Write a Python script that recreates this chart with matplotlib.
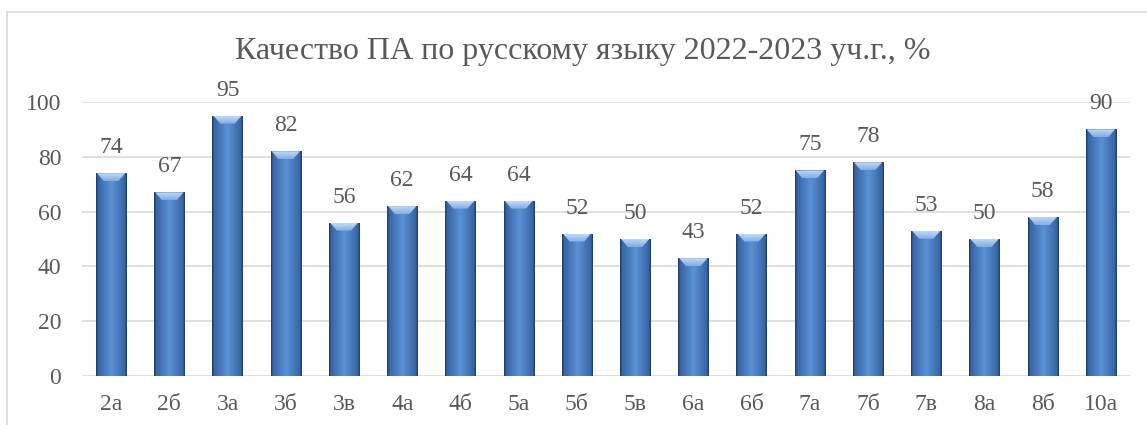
import numpy as np
import matplotlib
matplotlib.use("Agg")
import matplotlib.pyplot as plt
from matplotlib.colors import LinearSegmentedColormap
from matplotlib.patches import Polygon
from matplotlib.lines import Line2D

categories = ["2а", "2б", "3а", "3б", "3в", "4а", "4б", "5а", "5б", "5в",
              "6а", "6б", "7а", "7б", "7в", "8а", "8б", "10а"]
values = [74, 67, 95, 82, 56, 62, 64, 64, 52, 50, 43, 52, 75, 78, 53, 50, 58, 90]
title = "Качество ПА по русскому языку 2022-2023 уч.г., %"
yticks = [0, 20, 40, 60, 80, 100]

plt.rcParams['font.family'] = ['Liberation Serif', 'DejaVu Serif']
txt = "#595959"

W, H = 1147, 425
fig = plt.figure(figsize=(W / 100, H / 100), dpi=100)
ax = fig.add_axes([82 / W, 49 / H, (1130 - 82) / W, (376 - 102) / H])

x = np.arange(len(categories))
bars = ax.bar(x, values, width=0.52, color="#4f81bd", zorder=2)
ax.set_xlim(-0.5, len(categories) - 0.5)
ax.set_ylim(0, 100)
ax.set_yticks(yticks)
ax.set_xticks(x)
ax.set_xticklabels(categories)
ax.tick_params(axis='both', length=0, labelsize=17, colors=txt)
ax.tick_params(axis='x', pad=13)
ax.tick_params(axis='y', pad=15)
for s in ax.spines.values():
    s.set_visible(False)
ax.grid(axis='y', color="#d9d9d9", linewidth=1.2, zorder=0)
ax.set_axisbelow(True)

cmap = LinearSegmentedColormap.from_list(
    "bar", [(0, "#1a3461"), (0.06, "#3764a3"), (0.5, "#5b92d6"),
            (0.94, "#3764a3"), (1, "#1a3461")])
grad = np.linspace(0, 1, 200).reshape(1, -1)
bev_cmap = LinearSegmentedColormap.from_list(
    "bev", [(0, "#82ace4"), (1, "#c2daf6")])
vgrad = np.linspace(0, 1, 50).reshape(-1, 1)

fig.canvas.draw()
inv = ax.transData.inverted()
for b, v in zip(bars, values):
    x0, y0 = b.get_x(), b.get_y()
    w, h = b.get_width(), b.get_height()
    im = ax.imshow(grad, extent=[x0, x0 + w, y0, y0 + h], aspect='auto',
                   cmap=cmap, zorder=3, interpolation='bicubic')
    im.set_clip_path(b)
    b.set_facecolor("none")
    # top bevel (trapezoid)
    pL = ax.transData.transform((x0, y0 + h))
    pR = ax.transData.transform((x0 + w, y0 + h))
    d = 8
    verts = inv.transform([(pL[0] + 1, pL[1]), (pR[0] - 1, pR[1]),
                           (pR[0] - d, pR[1] - d), (pL[0] + d, pL[1] - d)])
    poly = Polygon(verts, closed=True, facecolor="none", edgecolor="none", zorder=4)
    ax.add_patch(poly)
    ybot = inv.transform((0, pL[1] - d))[1]
    bim = ax.imshow(vgrad, extent=[x0, x0 + w, ybot, y0 + h], aspect='auto',
                    cmap=bev_cmap, origin='lower', zorder=4, interpolation='bicubic')
    bim.set_clip_path(poly)
    ax.annotate(str(v), (x0 + w / 2, y0 + h), xytext=(0, 15),
                textcoords='offset pixels', ha='center', va='bottom',
                fontsize=17, color=txt, clip_on=False, zorder=5)

fig.text(583 / W, 1 - 52 / H, title, ha='center', va='center',
         fontsize=23, color=txt)

# outer chart frame
fig.add_artist(Line2D([7.5 / W, 7.5 / W], [0, 1 - 12 / H], color="#d9d9d9",
                      linewidth=1.2, transform=fig.transFigure))
fig.add_artist(Line2D([7.5 / W, 1], [1 - 12 / H, 1 - 12 / H], color="#d9d9d9",
                      linewidth=1.2, transform=fig.transFigure))

fig.savefig("out.png", dpi=100)
